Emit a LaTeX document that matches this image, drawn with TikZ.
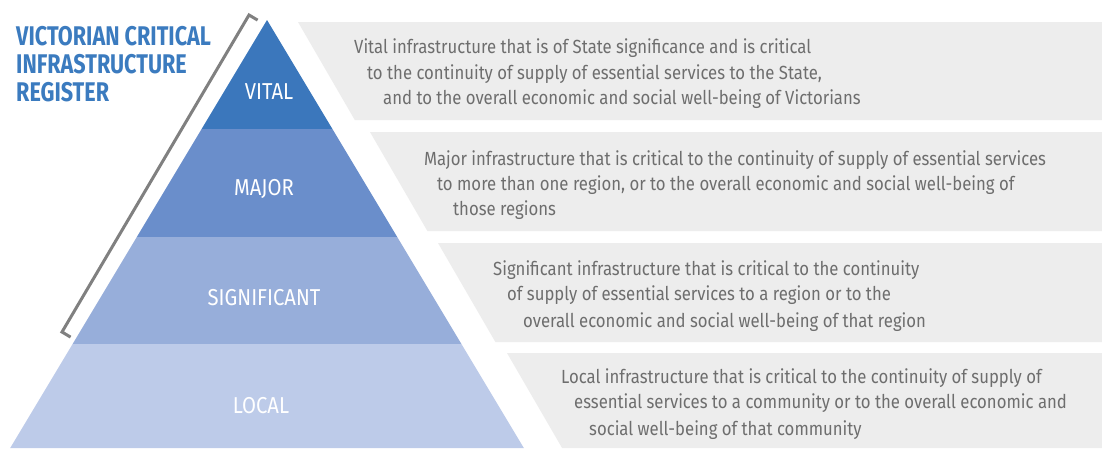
\documentclass[tikz,border=0pt]{standalone}
\usepackage{fontspec}
\newfontfamily\bodyfont[FakeStretch=0.88]{Fira Sans}
\newfontfamily\titlefont[FakeStretch=0.80]{Fira Sans}
\newfontfamily\labelfont[FakeStretch=0.88]{Fira Sans}
\definecolor{cvital}{HTML}{3B77BC}
\definecolor{cmajor}{HTML}{6A8ECB}
\definecolor{csig}{HTML}{97AEDA}
\definecolor{clocal}{HTML}{BDCBE9}
\definecolor{boxgray}{HTML}{EDEDED}
\definecolor{titleblue}{HTML}{3B7BBF}
\definecolor{txtgray}{HTML}{6E6E6E}
\definecolor{brgray}{HTML}{808080}
\tikzset{
  bodytxt/.style={anchor=base west, inner sep=0pt, text=txtgray, font=\bodyfont\fontsize{19}{22}\selectfont},
  titletxt/.style={anchor=base west, inner sep=0pt, text=titleblue, font=\titlefont\bfseries\fontsize{27}{30}\selectfont},
  lvltxt/.style={anchor=center, inner sep=0pt, text=white, font=\labelfont\fontsize{23}{26}\selectfont},
  descbox/.style={fill=boxgray},
  bracketline/.style={draw=brgray, line width=3pt, line join=miter}
}
\begin{document}
\begin{tikzpicture}[x=1pt,y=-1pt]
\useasboundingbox (0,0) rectangle (1102,448);
\fill[white] (0,0) rectangle (1102,448);
% description boxes
\fill[descbox] (298,22) -- (1102,22) -- (1102,120) -- (354.8,120) -- cycle;
\fill[descbox] (370,132) -- (1102,132) -- (1102,231) -- (427.4,231) -- cycle;
\fill[descbox] (438,243) -- (1102,243) -- (1102,342) -- (495.4,342) -- cycle;
\fill[descbox] (507,353) -- (1102,353) -- (1102,448) -- (562.1,448) -- cycle;
% pyramid bands
\fill[cvital] (267,20) -- (332.4,129) -- (201.6,129) -- cycle;
\fill[cmajor] (201.6,129) -- (332.4,129) -- (397.2,237) -- (136.8,237) -- cycle;
\fill[csig] (136.8,237) -- (397.2,237) -- (461.4,344) -- (72.6,344) -- cycle;
\fill[clocal] (72.6,344) -- (461.4,344) -- (523.8,448) -- (10.2,448) -- cycle;
% bracket
\draw[bracketline] (257.6,20.1) -- (249,15) -- (62,332) -- (70.6,337.1);
% level labels
\node[lvltxt] (vital) at (269,92) {VITAL};
\node[lvltxt] (major) at (264,189) {MAJOR};
\node[lvltxt] (significant) at (264,298) {SIGNIFICANT};
\node[lvltxt] (local) at (261,406) {LOCAL};
% title
\node[titletxt] (t1) at (16,45) {VICTORIAN CRITICAL};
\node[titletxt] (t2) at (16,73) {INFRASTRUCTURE};
\node[titletxt] (t3) at (16,101) {REGISTER};
% descriptions
\node[bodytxt] (d11) at (354,53) {Vital infrastructure that is of State significance and is critical};
\node[bodytxt] (d12) at (367,79) {to the continuity of supply of essential services to the State,};
\node[bodytxt] (d13) at (383,104) {and to the overall economic and social well-being of Victorians};
\node[bodytxt] (d21) at (424,165) {Major infrastructure that is critical to the continuity of supply of essential services};
\node[bodytxt] (d22) at (437,190) {to more than one region, or to the overall economic and social well-being of};
\node[bodytxt] (d23) at (453,215) {those regions};
\node[bodytxt] (d31) at (493,275) {Significant infrastructure that is critical to the continuity};
\node[bodytxt] (d32) at (507,300) {of supply of essential services to a region or to the};
\node[bodytxt] (d33) at (523,327) {overall economic and social well-being of that region};
\node[bodytxt] (d41) at (561,383) {Local infrastructure that is critical to the continuity of supply of};
\node[bodytxt] (d42) at (574,408) {essential services to a community or to the overall economic and};
\node[bodytxt] (d43) at (589,435) {social well-being of that community};
\end{tikzpicture}
\end{document}
